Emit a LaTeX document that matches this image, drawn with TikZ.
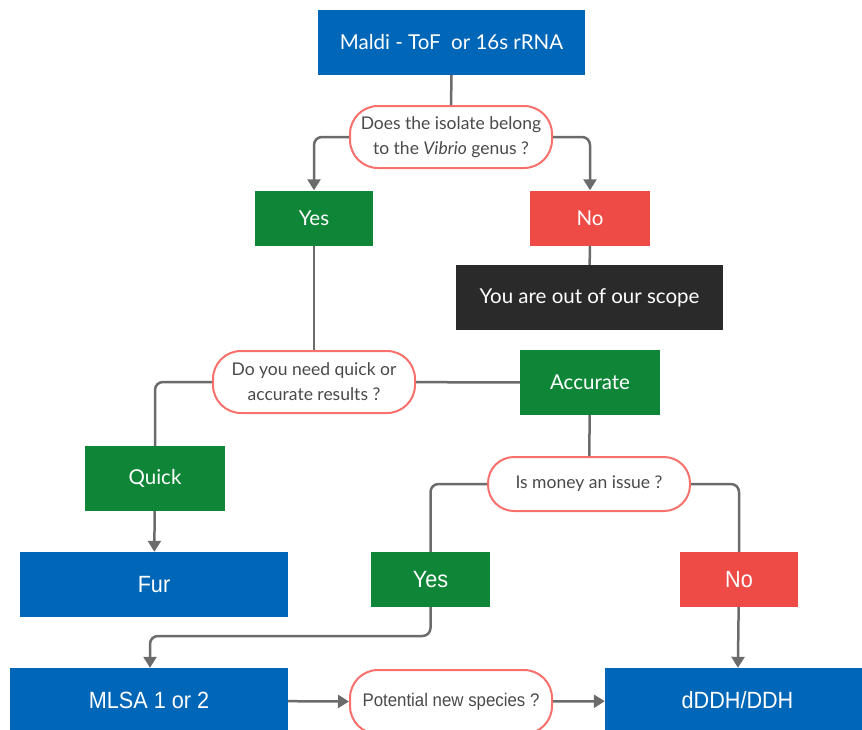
\documentclass[tikz,border=0pt]{standalone}
\usepackage{fontspec}
\setmainfont{Lato}
\newfontfamily\condfont[FakeStretch=0.92]{Liberation Sans}
\usetikzlibrary{arrows.meta}
\definecolor{cblue}{HTML}{0066B8}
\definecolor{cgreen}{HTML}{0F8637}
\definecolor{cred}{HTML}{EE4B46}
\definecolor{cblack}{HTML}{2A2A2A}
\definecolor{cline}{HTML}{6B6B6B}
\definecolor{cborder}{HTML}{F7706B}
\definecolor{ctext}{HTML}{4A4A4A}
\tikzset{
  box/.style={draw=none, text=white, inner sep=0pt, font=\fontsize{20.5}{24}\selectfont},
  bluebox/.style={box, fill=cblue},
  greenbox/.style={box, fill=cgreen},
  redbox/.style={box, fill=cred},
  blackbox/.style={box, fill=cblack},
  cond/.style={font=\condfont\fontsize{23.5}{26}\selectfont},
  decision/.style={draw=cborder, line width=2pt, fill=white, rounded corners=28pt, text=ctext,
    align=center, inner sep=0pt, font=\fontsize{17.5}{25}\selectfont},
  conn/.style={draw=cline, line width=2.5pt, rounded corners=8pt},
  arr/.style={conn, -{Triangle[width=13pt,length=11pt]}},
}
\begin{document}
\begin{tikzpicture}[x=1pt,y=-1pt]
\useasboundingbox (0,0) rectangle (862,729);
\clip (0,0) rectangle (862,729);
% nodes
\node[bluebox, minimum width=267pt, minimum height=65pt] (top) at (451.5,42.5) {Maldi - ToF\ \ or 16s rRNA};
\node[decision, minimum width=202pt, minimum height=62pt] (d1) at (451,137) {Does the isolate belong\\to the \textit{Vibrio} genus ?};
\node[greenbox, minimum width=118pt, minimum height=55pt] (yes1) at (314,218) {Yes};
\node[redbox, minimum width=120pt, minimum height=55pt] (no1) at (590,218) {No};
\node[blackbox, minimum width=267pt, minimum height=65pt] (scope) at (589.5,297.5) {You are out of our scope};
\node[decision, minimum width=202pt, minimum height=62pt] (d2) at (314,382) {Do you need quick or\\accurate results ?};
\node[greenbox, minimum width=140pt, minimum height=65pt] (acc) at (590,382.5) {Accurate};
\node[greenbox, minimum width=140pt, minimum height=65pt] (quick) at (155,478.5) {Quick};
\node[decision, minimum width=202pt, minimum height=54pt, rounded corners=26pt] (money) at (589,484) {Is money an issue ?};
\node[bluebox, cond, minimum width=268pt, minimum height=65pt] (fur) at (154,584.5) {Fur};
\node[greenbox, cond, minimum width=119pt, minimum height=55pt] (yes2) at (430.5,579.5) {Yes};
\node[redbox, cond, minimum width=118pt, minimum height=55pt] (no2) at (739,579.5) {No};
\node[bluebox, cond, minimum width=278pt, minimum height=65pt] (mlsa) at (149,700.5) {MLSA 1 or 2};
\node[decision, minimum width=202pt, minimum height=64pt, font=\condfont\fontsize{18.3}{20}\selectfont] (pot) at (451,702) {Potential new species ?};
\node[bluebox, cond, minimum width=265pt, minimum height=65pt] (dddh) at (737.5,700.5) {dDDH/DDH};
% connectors
\draw[conn] (top) -- (d1);
\draw[arr] (d1.west) -| (yes1.north);
\draw[arr] (d1.east) -| (no1.north);
\draw[conn] (no1) -- (scope);
\draw[conn] (yes1) -- (d2);
\draw[conn] (d2) -- (acc);
\draw[conn] (d2.west) -| (quick.north);
\draw[arr] (quick) -- (fur);
\draw[conn] (acc) -- (money);
\draw[conn] (money.west) -| (yes2.north);
\draw[conn] (money.east) -| (no2.north);
\coordinate (bend) at (430.5,636);
\draw[arr] (yes2.south) -- (bend) -| (mlsa.north -| 150,0);
\draw[arr] (no2) -- (dddh);
\draw[arr] (mlsa) -- (pot);
\draw[arr] (pot) -- (dddh);
\end{tikzpicture}
\end{document}
